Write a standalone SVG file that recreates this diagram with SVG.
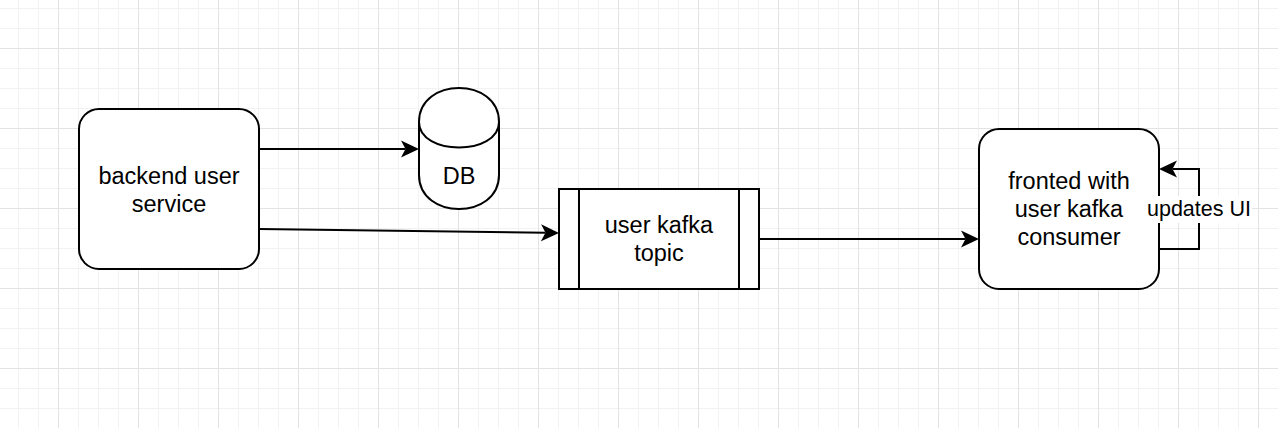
<svg xmlns="http://www.w3.org/2000/svg" width="1278" height="428" viewBox="0 0 1278 428">
  <style>
    .shape { fill: #ffffff; stroke: #000000; stroke-width: 2; }
    .edge { fill: none; stroke: #000000; stroke-width: 2; }
    .lbl { font-family: "Liberation Sans", Arial, Helvetica, sans-serif; font-size: 23.5px; fill: #000000; text-anchor: middle; }
    .elbl { font-family: "Liberation Sans", Arial, Helvetica, sans-serif; font-size: 21.5px; fill: #000000; text-anchor: middle; }
  </style>
  <defs>
    <pattern id="minor" patternUnits="userSpaceOnUse" x="18" y="8" width="20" height="20">
      <rect x="0" y="0" width="20" height="1" fill="#f2f2f2"/>
      <rect x="0" y="0" width="1" height="20" fill="#f2f2f2"/>
    </pattern>
    <pattern id="major" patternUnits="userSpaceOnUse" x="58" y="48" width="80" height="80">
      <rect x="0" y="0" width="80" height="1" fill="#e3e3e3"/>
      <rect x="0" y="0" width="1" height="80" fill="#e3e3e3"/>
    </pattern>
    <marker id="arrow" markerUnits="userSpaceOnUse" viewBox="0 -10 20 20" markerWidth="20" markerHeight="20" refX="4.5" refY="0" orient="auto">
      <path d="M18,0 L0,-8.5 L4.5,0 L0,8.5 Z" fill="#000000"/>
    </marker>
  </defs>
  <rect x="0" y="0" width="1278" height="428" fill="#ffffff"/>
  <rect x="0" y="0" width="1278" height="428" fill="url(#minor)"/>
  <rect x="0" y="0" width="1278" height="428" fill="url(#major)"/>

  <g id="backend">
    <rect class="shape" x="79" y="109" width="180" height="160" rx="20" ry="20"/>
    <text class="lbl" x="169" y="184">backend user</text>
    <text class="lbl" x="169" y="212">service</text>
  </g>

  <g id="db">
    <path class="shape" d="M419,122 C419,76.7 499,76.7 499,122 L499,175 C499,220.3 419,220.3 419,175 Z"/>
    <path class="edge" d="M419,122 C419,156 499,156 499,122"/>
    <text class="lbl" x="459" y="184">DB</text>
  </g>

  <g id="kafka">
    <rect class="shape" x="559" y="189" width="200" height="100"/>
    <path class="edge" d="M579,189 V289 M739,189 V289"/>
    <text class="lbl" x="659" y="233">user kafka</text>
    <text class="lbl" x="659" y="261">topic</text>
  </g>

  <g id="frontend">
    <rect class="shape" x="979" y="129" width="180" height="160" rx="20" ry="20"/>
    <text class="lbl" x="1069" y="189">fronted with</text>
    <text class="lbl" x="1069" y="217">user kafka</text>
    <text class="lbl" x="1069" y="245">consumer</text>
  </g>

  <g id="connectors">
    <path class="edge" d="M259,149 L405.5,149" marker-end="url(#arrow)"/>
    <path class="edge" d="M259,229 L545.5,232.8" marker-end="url(#arrow)"/>
    <path class="edge" d="M759,239 L965.5,239" marker-end="url(#arrow)"/>
    <path class="edge" d="M1159,249 H1199 V169 H1172.5" marker-end="url(#arrow)"/>
    <g id="edge-label">
      <rect x="1146" y="196" width="106" height="27" fill="#ffffff"/>
      <text class="elbl" x="1199" y="216">updates UI</text>
    </g>
  </g>
</svg>
